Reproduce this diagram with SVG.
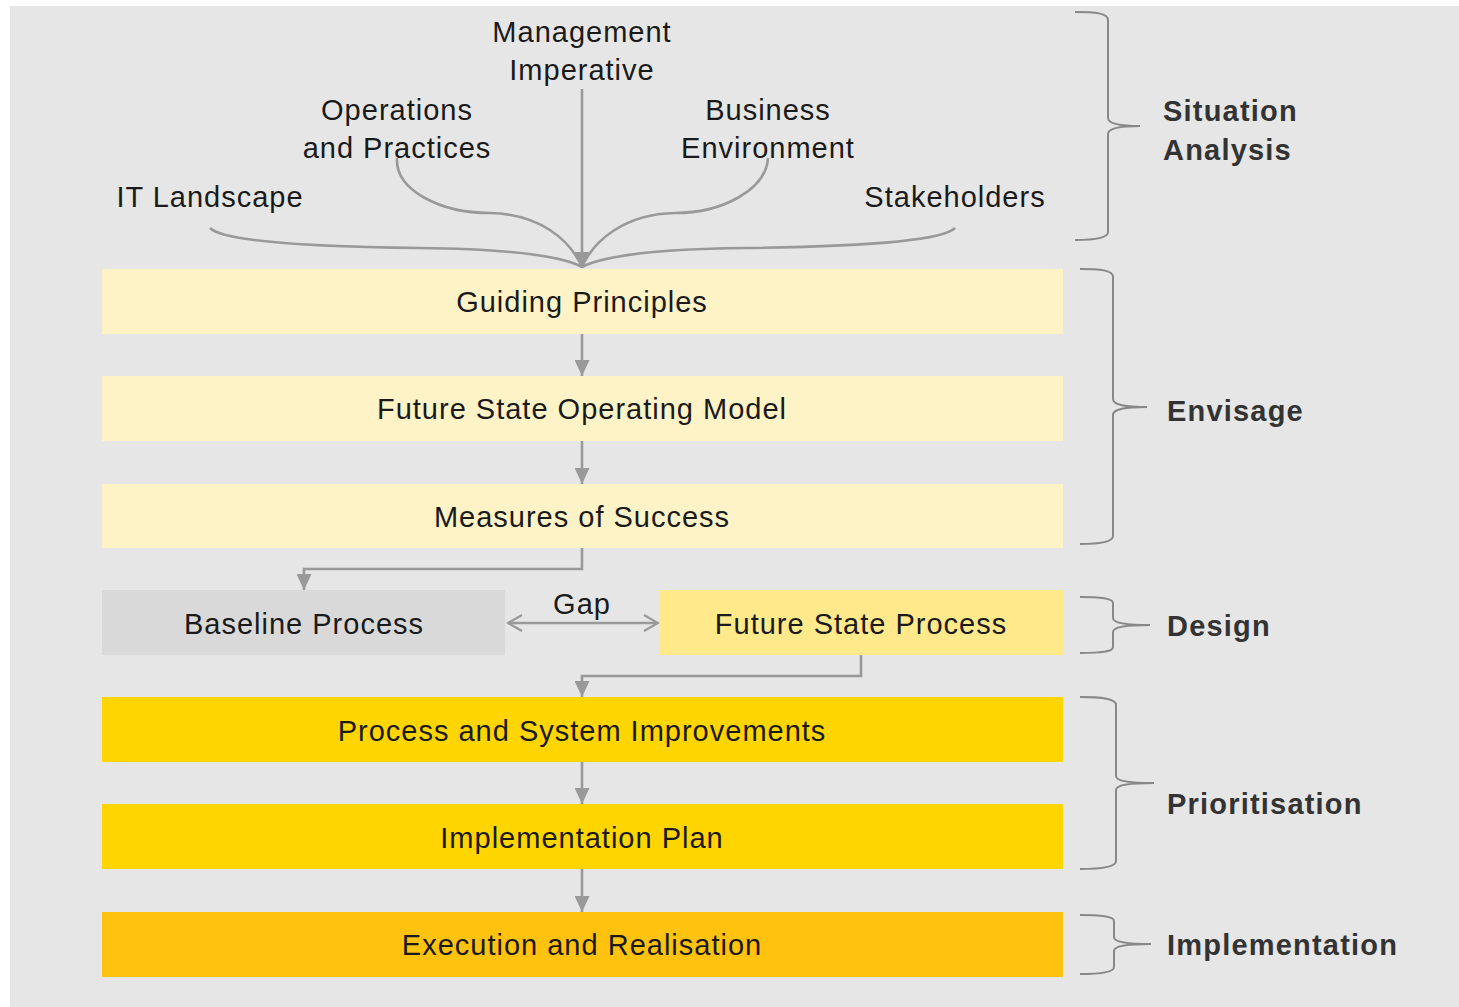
<svg xmlns="http://www.w3.org/2000/svg" width="1459" height="1007" viewBox="0 0 1459 1007">
<defs>
<marker id="tri" viewBox="0 0 16 15" refX="16" refY="7.5" markerWidth="16" markerHeight="15" markerUnits="userSpaceOnUse" orient="auto">
<path d="M0,0 L16,7.5 L0,15 Z" fill="#999"/>
</marker>
<marker id="chev" viewBox="0 0 20 20" refX="18" refY="10" markerWidth="20" markerHeight="20" markerUnits="userSpaceOnUse" orient="auto-start-reverse">
<path d="M4,2 L18,10 L4,18" fill="none" stroke="#999" stroke-width="2.2"/>
</marker>
</defs>
<style>
text{font-family:"Liberation Sans",Arial,sans-serif;font-size:29px;letter-spacing:1px;fill:#1a1a1a;text-anchor:middle}
.lab{text-anchor:start;fill:#333;font-weight:bold;font-size:29px;letter-spacing:1.2px}
.con{fill:none;stroke:#999;stroke-width:2.6}
.br{fill:none;stroke:#888;stroke-width:2}
</style>
<rect x="0" y="0" width="1459" height="1007" fill="#fff"/>
<rect x="10" y="6" width="1449" height="1001" fill="#e6e6e6"/>

<g id="sources">
<text x="582" y="42">Management</text>
<text x="582" y="80">Imperative</text>
<text x="397" y="120">Operations</text>
<text x="397" y="158">and Practices</text>
<text x="768" y="120">Business</text>
<text x="768" y="158">Environment</text>
<text x="210" y="207">IT Landscape</text>
<text x="955" y="207">Stakeholders</text>
</g>

<g id="n-guiding"><rect x="102" y="269" width="961" height="65" fill="#fef3c6"/><text x="582" y="312">Guiding Principles</text></g>
<g id="n-fsom"><rect x="102" y="376" width="961" height="65" fill="#fef3c6"/><text x="582" y="419">Future State Operating Model</text></g>
<g id="n-measures"><rect x="102" y="484" width="961" height="64" fill="#fef3c6"/><text x="582" y="527">Measures of Success</text></g>
<g id="n-baseline"><rect x="102" y="590" width="403" height="65" fill="#d9d9d9"/><text x="304" y="634">Baseline Process</text></g>
<g id="n-fsp"><rect x="660" y="590" width="403" height="65" fill="#ffe98a"/><text x="861" y="634">Future State Process</text></g>
<g id="n-psi"><rect x="102" y="697" width="961" height="65" fill="#ffd500"/><text x="582" y="741">Process and System Improvements</text></g>
<g id="n-plan"><rect x="102" y="804" width="961" height="65" fill="#ffd500"/><text x="582" y="848">Implementation Plan</text></g>
<g id="n-exec"><rect x="102" y="912" width="961" height="65" fill="#ffc20e"/><text x="582" y="955">Execution and Realisation</text></g>

<g id="connectors">
<path class="con" d="M582,89 L582,268" marker-end="url(#tri)"/>
<path class="con" d="M210,228 C225,243 330,247 420,248 C505,249 560,255 582,267"/>
<path class="con" d="M397,158 C395,190 440,213 490,213 C540,214 570,240 582,267"/>
<path class="con" d="M768,158 C766,190 722,213 675,213 C625,214 594,240 582,267"/>
<path class="con" d="M955,228 C940,243 830,247 745,248 C660,249 605,255 582,267"/>
<path class="con" d="M582,334 L582,376" marker-end="url(#tri)"/>
<path class="con" d="M582,441 L582,484" marker-end="url(#tri)"/>
<path class="con" d="M582,548 L582,569 L304,569 L304,590" marker-end="url(#tri)"/>
<path class="con" d="M508,623 L658,623" marker-start="url(#chev)" marker-end="url(#chev)"/>
<text x="582" y="614">Gap</text>
<path class="con" d="M861,655 L861,676 L582,676 L582,697" marker-end="url(#tri)"/>
<path class="con" d="M582,762 L582,804" marker-end="url(#tri)"/>
<path class="con" d="M582,869 L582,912" marker-end="url(#tri)"/>
</g>

<g id="phases">
<path class="br" d="M1075,12 C1095,12 1108,13 1108,20 L1108,118 C1108,124 1120,126 1140,126 C1120,126 1108,128 1108,134 L1108,232 C1108,238 1095,240 1075,240"/>
<text class="lab" x="1163" y="121">Situation</text>
<text class="lab" x="1163" y="160">Analysis</text>
<path class="br" d="M1080,269 C1100,269 1113,270 1113,277 L1113,399 C1113,405 1125,407 1147,407 C1125,407 1113,409 1113,415 L1113,536 C1113,542 1100,544 1080,544"/>
<text class="lab" x="1167" y="421">Envisage</text>
<path class="br" d="M1080,597 C1100,597 1113,598 1113,603 L1113,618 C1113,623 1125,625 1150,625 C1125,625 1113,627 1113,632 L1113,647 C1113,652 1100,653 1080,653"/>
<text class="lab" x="1167" y="636">Design</text>
<path class="br" d="M1080,697 C1100,697 1116,698 1116,705 L1116,776 C1116,781 1128,783 1154,783 C1128,783 1116,785 1116,790 L1116,861 C1116,867 1100,869 1080,869"/>
<text class="lab" x="1167" y="814">Prioritisation</text>
<path class="br" d="M1080,915 C1100,915 1114,916 1114,921 L1114,937 C1114,942 1126,944 1151,944 C1126,944 1114,946 1114,951 L1114,967 C1114,972 1100,974 1080,974"/>
<text class="lab" x="1167" y="955">Implementation</text>
</g>
</svg>
